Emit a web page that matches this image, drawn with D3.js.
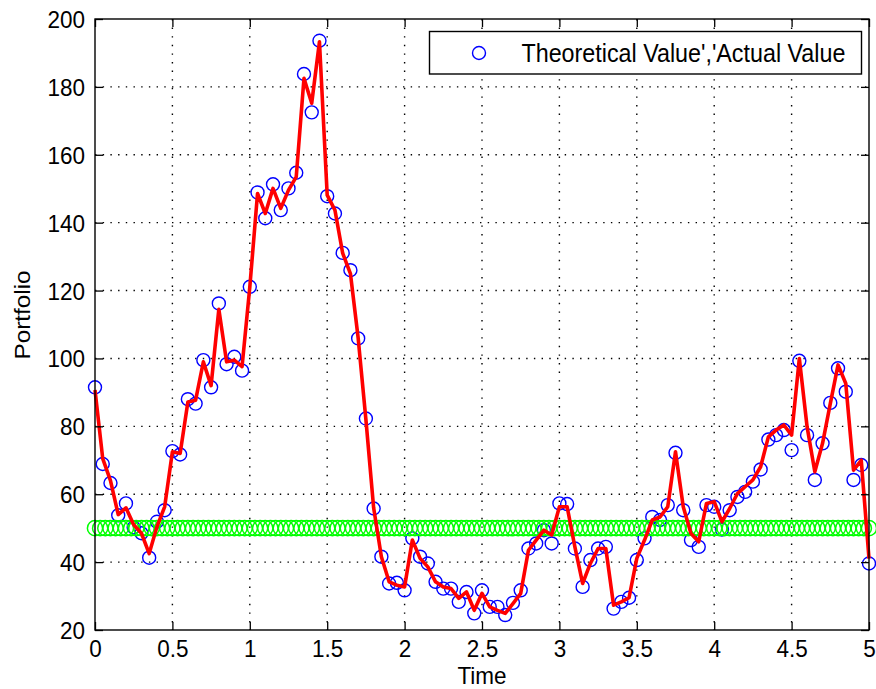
<!DOCTYPE html>
<html>
<head>
<meta charset="utf-8">
<script src="https://cdn.jsdelivr.net/npm/d3@7"></script>
<style>
  html, body { margin: 0; padding: 0; background: #fff; }
  svg { display: block; }
  text { font-family: "Liberation Sans", Arial, Helvetica, sans-serif; fill: #000; }
</style>
</head>
<body>
<svg id="chart" width="876" height="689"></svg>
<script>
// Simulated portfolio value, sampled every 0.05 time units from 0 to 5
const timeStep = 0.05;
const timeSteps = d3.range(0, 101).map(i => +(i * timeStep).toFixed(2));

// Theoretical portfolio value (blue circles)
const theoreticalValue = [
  91.5, 68.9, 63.3, 53.8, 57.3, 50.2, 48.5, 41.3, 51.9, 55.3,
  72.7, 71.7, 88.0, 86.7, 99.5, 91.5, 116.2, 98.3, 100.5, 96.4,
  121.1, 148.9, 141.3, 151.3, 143.7, 150.1, 154.7, 183.8, 172.5, 193.6,
  147.8, 142.7, 131.1, 126.0, 105.9, 82.3, 55.8, 41.6, 33.7, 33.9,
  31.7, 47.0, 41.6, 39.6, 34.2, 32.2, 32.2, 28.3, 31.2, 24.9,
  31.7, 26.8, 26.8, 24.4, 28.0, 31.7, 44.0, 45.5, 49.4, 45.5,
  57.3, 57.1, 44.0, 32.7, 40.6, 44.0, 44.5, 26.3, 28.3, 29.5,
  40.6, 47.0, 53.3, 52.4, 56.8, 72.2, 55.3, 46.5, 44.5, 56.8,
  56.3, 49.6, 55.3, 59.2, 60.7, 63.7, 67.3, 76.1, 77.4, 78.9,
  73.0, 99.3, 77.4, 64.2, 75.0, 86.9, 97.1, 90.2, 64.2, 68.6,
  39.6
];

// Actual portfolio value (red line)
const actualValue = [
  90.7, 70.5, 64.0, 54.0, 56.0, 51.0, 48.5, 42.5, 50.4, 56.3,
  72.5, 72.0, 87.2, 87.7, 99.0, 92.0, 114.5, 99.0, 99.5, 97.6,
  121.0, 148.6, 142.7, 150.1, 144.2, 149.6, 153.5, 182.5, 175.2, 193.3,
  148.1, 143.7, 131.0, 125.0, 106.0, 82.0, 56.0, 41.6, 34.2, 33.2,
  32.7, 46.5, 41.1, 38.6, 34.2, 32.7, 32.2, 29.3, 31.2, 25.8,
  30.8, 26.8, 25.8, 24.9, 27.8, 30.8, 43.5, 46.5, 49.4, 48.0,
  56.3, 56.3, 44.5, 33.7, 39.6, 44.0, 44.0, 27.3, 28.3, 29.5,
  41.1, 46.5, 52.4, 53.3, 56.3, 72.5, 56.3, 48.4, 46.0, 57.3,
  57.8, 51.9, 55.8, 60.2, 62.2, 64.2, 68.1, 76.9, 78.9, 80.4,
  77.4, 100.0, 79.9, 66.6, 75.0, 86.7, 98.1, 92.6, 67.1, 70.0,
  41.0
];

// Strike level, marked on a finer time grid (green circles)
const strikeLevel = 50;
const strikeTimes = d3.range(0, 151).map(i => i * 5 / 150);

// Axis ticks and labels
const xTicks = [0, 0.5, 1, 1.5, 2, 2.5, 3, 3.5, 4, 4.5, 5];
const yTicks = [20, 40, 60, 80, 100, 120, 140, 160, 180, 200];
const xLabel = "Time";
const yLabel = "Portfolio";
const legendLabel = "Theoretical Value','Actual Value";

const W = 876, H = 689;
const margin = { top: 19, right: 7, bottom: 59, left: 95 };
const iw = W - margin.left - margin.right;
const ih = H - margin.top - margin.bottom;

const svg = d3.select("#chart");
const g = svg.append("g").attr("transform", `translate(${margin.left},${margin.top})`);

const x = d3.scaleLinear().domain([0, 5]).range([0, iw]);
const y = d3.scaleLinear().domain([20, 200]).range([ih, 0]);

const fontSize = 22.5;
const stretch = 1.08;

// dotted grid
const grid = g.append("g").attr("class", "grid");
grid.selectAll("line.gx").data(xTicks.slice(1, -1)).join("line")
  .attr("x1", d => x(d)).attr("x2", d => x(d))
  .attr("y1", 0).attr("y2", ih)
  .attr("stroke", "#000").attr("stroke-width", 1.4)
  .attr("stroke-dasharray", "1.4 7.2");
grid.selectAll("line.gy").data(yTicks.slice(1, -1)).join("line")
  .attr("x1", 0).attr("x2", iw)
  .attr("y1", d => y(d)).attr("y2", d => y(d))
  .attr("stroke", "#000").attr("stroke-width", 1.4)
  .attr("stroke-dasharray", "1.4 6.3");

// theoretical values
g.append("g").selectAll("circle").data(timeSteps).join("circle")
  .attr("cx", d => x(d))
  .attr("cy", (d, i) => y(theoreticalValue[i]))
  .attr("r", 6.5)
  .attr("fill", "none")
  .attr("stroke", "#0000ff")
  .attr("stroke-width", 1.4);

// strike level
g.append("g").selectAll("circle").data(strikeTimes).join("circle")
  .attr("cx", d => x(d))
  .attr("cy", y(strikeLevel))
  .attr("r", 7.6)
  .attr("fill", "none")
  .attr("stroke", "#00ff00")
  .attr("stroke-width", 1.5);

// actual values
const line = d3.line().x((d, i) => x(timeSteps[i])).y(d => y(d));
g.append("path")
  .datum(actualValue)
  .attr("d", line)
  .attr("fill", "none")
  .attr("stroke", "#ff0000")
  .attr("stroke-width", 3.6)
  .attr("stroke-linejoin", "round");

// axes with inward ticks on all four sides
function styleAxis(sel) {
  sel.attr("font-size", null).attr("font-family", null);
  sel.selectAll(".domain").remove();
  sel.selectAll(".tick line").attr("stroke", "#000").attr("stroke-width", 1.3);
  sel.selectAll("text").style("font-size", fontSize + "px");
}

const xAxis = g.append("g").attr("transform", `translate(0,${ih})`)
  .call(d3.axisBottom(x).tickValues(xTicks).tickFormat(d3.format("")).tickSizeInner(-8).tickSizeOuter(0).tickPadding(0));
styleAxis(xAxis);
xAxis.selectAll("text")
  .attr("dy", null)
  .attr("y", 0)
  .attr("transform", `translate(0,${27}) scale(1,${stretch})`);

const yAxis = g.append("g")
  .call(d3.axisLeft(y).tickValues(yTicks).tickFormat(d3.format("")).tickSizeInner(-8).tickSizeOuter(0).tickPadding(0));
styleAxis(yAxis);
yAxis.selectAll("text")
  .attr("dy", null)
  .attr("x", 0)
  .attr("transform", `translate(-10,${8.5}) scale(1,${stretch})`);

const xTop = g.append("g")
  .call(d3.axisTop(x).tickValues(xTicks).tickFormat("").tickSizeInner(-8).tickSizeOuter(0));
styleAxis(xTop);
const yRight = g.append("g").attr("transform", `translate(${iw},0)`)
  .call(d3.axisRight(y).tickValues(yTicks).tickFormat("").tickSizeInner(-8).tickSizeOuter(0));
styleAxis(yRight);

// axes box
g.append("rect")
  .attr("x", 0).attr("y", 0).attr("width", iw).attr("height", ih)
  .attr("fill", "none").attr("stroke", "#000").attr("stroke-width", 1.4);

// axis titles
svg.append("text")
  .attr("text-anchor", "middle")
  .attr("transform", `translate(${margin.left + iw / 2},${684}) scale(1,${stretch})`)
  .style("font-size", fontSize + "px")
  .text(xLabel);

svg.append("text")
  .attr("text-anchor", "middle")
  .attr("transform", `translate(${30},${315}) rotate(-90) scale(${stretch},1)`)
  .style("font-size", fontSize + "px")
  .text(yLabel);

// legend
const leg = svg.append("g");
leg.append("rect")
  .attr("x", 429.5).attr("y", 31.5).attr("width", 432).attr("height", 42.5)
  .attr("fill", "#fff").attr("stroke", "#000").attr("stroke-width", 1.4);
leg.append("circle")
  .attr("cx", 479).attr("cy", 53)
  .attr("r", 6.5)
  .attr("fill", "none").attr("stroke", "#0000ff").attr("stroke-width", 1.4);
leg.append("text")
  .attr("transform", `translate(521.5,62) scale(1,${stretch})`)
  .style("font-size", "23.3px")
  .text(legendLabel);
</script>
</body>
</html>
